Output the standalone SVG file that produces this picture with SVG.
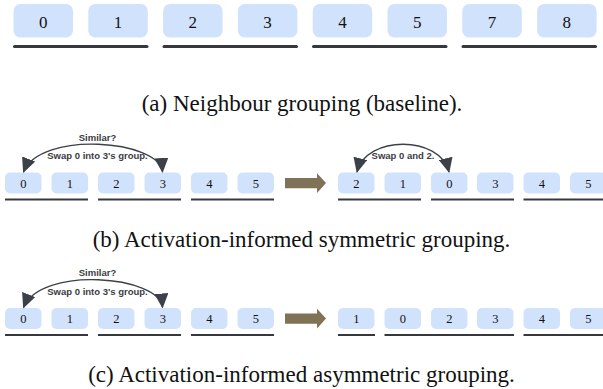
<svg xmlns="http://www.w3.org/2000/svg" width="603" height="389" viewBox="0 0 603 389">
<style>
.bl{fill:#d1e3fc}
.nl{font-family:"Liberation Serif","Times New Roman",serif;fill:#111;text-anchor:middle}
.big{font-size:17px}
.sm{font-size:12.5px}
.ul{stroke:#36383e;stroke-linecap:round;fill:none}
.ul3{stroke-width:3}
.ul2{stroke-width:2.2;stroke-linecap:butt}
.cap{font-family:"Liberation Serif","Times New Roman",serif;font-size:23px;fill:#111;text-anchor:middle}
.lbl{font-family:"Liberation Sans",Arial,sans-serif;font-weight:bold;font-size:9.5px;fill:#3a3d44;text-anchor:middle}
.arc{fill:none;stroke:#3c4048;stroke-width:1.3}
.mv{fill:#807256}
</style>
<defs>
<marker id="ah" viewBox="0 0 15 14" refX="14" refY="7" markerWidth="15" markerHeight="14" markerUnits="userSpaceOnUse" orient="auto-start-reverse">
<path d="M0,0 L15,7 L0,14 z" fill="#3c4048"/>
</marker>
</defs>

<!-- (a) -->
<g id="a-row">
<g id="a0"><rect class="bl" x="13.5" y="4" width="59.5" height="33.5" rx="7"/><text class="nl big" x="43.2" y="28">0</text></g>
<g id="a1"><rect class="bl" x="88.3" y="4" width="59.5" height="33.5" rx="7"/><text class="nl big" x="118" y="28">1</text></g>
<g id="a2"><rect class="bl" x="163.1" y="4" width="59.5" height="33.5" rx="7"/><text class="nl big" x="192.8" y="28">2</text></g>
<g id="a3"><rect class="bl" x="237.9" y="4" width="59.5" height="33.5" rx="7"/><text class="nl big" x="267.6" y="28">3</text></g>
<g id="a4"><rect class="bl" x="312.7" y="4" width="59.5" height="33.5" rx="7"/><text class="nl big" x="342.4" y="28">4</text></g>
<g id="a5"><rect class="bl" x="387.5" y="4" width="59.5" height="33.5" rx="7"/><text class="nl big" x="417.2" y="28">5</text></g>
<g id="a7"><rect class="bl" x="462.3" y="4" width="59.5" height="33.5" rx="7"/><text class="nl big" x="492" y="28">7</text></g>
<g id="a8"><rect class="bl" x="537.1" y="4" width="59.5" height="33.5" rx="7"/><text class="nl big" x="566.8" y="28">8</text></g>
</g>
<g id="a-groups" class="ul ul3">
<line x1="14.5" y1="46.5" x2="147" y2="46.5"/>
<line x1="164" y1="46.5" x2="296.5" y2="46.5"/>
<line x1="313.5" y1="46.5" x2="446" y2="46.5"/>
<line x1="463" y1="46.5" x2="595.5" y2="46.5"/>
</g>
<text class="cap" x="302" y="111">(a) Neighbour grouping (baseline).</text>

<!-- (b) -->
<g id="b-left">
<g id="b0"><rect class="bl" x="5" y="172.5" width="36.5" height="21" rx="5"/><text class="nl sm" x="23.25" y="187.5">0</text></g>
<g id="b1"><rect class="bl" x="51.5" y="172.5" width="36.5" height="21" rx="5"/><text class="nl sm" x="69.75" y="187.5">1</text></g>
<g id="b2"><rect class="bl" x="98" y="172.5" width="36.5" height="21" rx="5"/><text class="nl sm" x="116.25" y="187.5">2</text></g>
<g id="b3"><rect class="bl" x="144.5" y="172.5" width="36.5" height="21" rx="5"/><text class="nl sm" x="162.75" y="187.5">3</text></g>
<g id="b4"><rect class="bl" x="191" y="172.5" width="36.5" height="21" rx="5"/><text class="nl sm" x="209.25" y="187.5">4</text></g>
<g id="b5"><rect class="bl" x="237.5" y="172.5" width="36.5" height="21" rx="5"/><text class="nl sm" x="255.75" y="187.5">5</text></g>
</g>
<g id="b-right">
<g id="br2"><rect class="bl" x="338" y="172.5" width="36.5" height="21" rx="5"/><text class="nl sm" x="356.25" y="187.5">2</text></g>
<g id="br1"><rect class="bl" x="384.5" y="172.5" width="36.5" height="21" rx="5"/><text class="nl sm" x="402.75" y="187.5">1</text></g>
<g id="br0"><rect class="bl" x="431" y="172.5" width="36.5" height="21" rx="5"/><text class="nl sm" x="449.25" y="187.5">0</text></g>
<g id="br3"><rect class="bl" x="477" y="172.5" width="36.5" height="21" rx="5"/><text class="nl sm" x="495.25" y="187.5">3</text></g>
<g id="br4"><rect class="bl" x="523.5" y="172.5" width="36.5" height="21" rx="5"/><text class="nl sm" x="541.75" y="187.5">4</text></g>
<g id="br5"><rect class="bl" x="570" y="172.5" width="36.5" height="21" rx="5"/><text class="nl sm" x="588.25" y="187.5">5</text></g>
</g>
<g id="b-groups" class="ul ul2">
<line x1="5" y1="199.5" x2="88" y2="199.5"/>
<line x1="98" y1="199.5" x2="181" y2="199.5"/>
<line x1="191" y1="199.5" x2="274" y2="199.5"/>
<line x1="338" y1="199.5" x2="421" y2="199.5"/>
<line x1="431" y1="199.5" x2="514" y2="199.5"/>
<line x1="523.5" y1="199.5" x2="606" y2="199.5"/>
</g>
<g id="b-connectors">
<path class="arc" d="M162.5 172 C160 140 40 130 23.5 172" marker-start="url(#ah)" marker-end="url(#ah)"/>
<path class="arc" d="M449 172 C440 135 366 135 357 172" marker-start="url(#ah)" marker-end="url(#ah)"/>
<polygon class="mv" points="285,178 317,178 317,173.3 326,183 317,193 317,188.3 285,188.3"/>
</g>
<text class="lbl" x="97.5" y="140.5">Similar?</text>
<text class="lbl" x="97.5" y="159">Swap 0 into 3's group.</text>
<text class="lbl" x="403" y="159">Swap 0 and 2.</text>
<text class="cap" x="301.5" y="247">(b) Activation-informed symmetric grouping.</text>

<!-- (c) -->
<g id="c-left">
<g id="c0"><rect class="bl" x="5" y="308" width="36.5" height="21" rx="5"/><text class="nl sm" x="23.25" y="323">0</text></g>
<g id="c1"><rect class="bl" x="51.5" y="308" width="36.5" height="21" rx="5"/><text class="nl sm" x="69.75" y="323">1</text></g>
<g id="c2"><rect class="bl" x="98" y="308" width="36.5" height="21" rx="5"/><text class="nl sm" x="116.25" y="323">2</text></g>
<g id="c3"><rect class="bl" x="144.5" y="308" width="36.5" height="21" rx="5"/><text class="nl sm" x="162.75" y="323">3</text></g>
<g id="c4"><rect class="bl" x="191" y="308" width="36.5" height="21" rx="5"/><text class="nl sm" x="209.25" y="323">4</text></g>
<g id="c5"><rect class="bl" x="237.5" y="308" width="36.5" height="21" rx="5"/><text class="nl sm" x="255.75" y="323">5</text></g>
</g>
<g id="c-right">
<g id="cr1"><rect class="bl" x="338" y="308" width="36.5" height="21" rx="5"/><text class="nl sm" x="356.25" y="323">1</text></g>
<g id="cr0"><rect class="bl" x="384.5" y="308" width="36.5" height="21" rx="5"/><text class="nl sm" x="402.75" y="323">0</text></g>
<g id="cr2"><rect class="bl" x="431" y="308" width="36.5" height="21" rx="5"/><text class="nl sm" x="449.25" y="323">2</text></g>
<g id="cr3"><rect class="bl" x="477" y="308" width="36.5" height="21" rx="5"/><text class="nl sm" x="495.25" y="323">3</text></g>
<g id="cr4"><rect class="bl" x="523.5" y="308" width="36.5" height="21" rx="5"/><text class="nl sm" x="541.75" y="323">4</text></g>
<g id="cr5"><rect class="bl" x="570" y="308" width="36.5" height="21" rx="5"/><text class="nl sm" x="588.25" y="323">5</text></g>
</g>
<g id="c-groups" class="ul ul2">
<line x1="5" y1="335" x2="88" y2="335"/>
<line x1="98" y1="335" x2="181" y2="335"/>
<line x1="191" y1="335" x2="274" y2="335"/>
<line x1="338" y1="335" x2="375" y2="335"/>
<line x1="384.5" y1="335" x2="514" y2="335"/>
<line x1="523.5" y1="335" x2="606" y2="335"/>
</g>
<g id="c-connectors">
<path class="arc" d="M162.5 307.5 C160 275.5 40 265.5 23.5 307.5" marker-start="url(#ah)" marker-end="url(#ah)"/>
<polygon class="mv" points="285,313.5 317,313.5 317,308.8 326,318.5 317,328.5 317,323.8 285,323.8"/>
</g>
<text class="lbl" x="97.5" y="276">Similar?</text>
<text class="lbl" x="97.5" y="294.5">Swap 0 into 3's group.</text>
<text class="cap" x="301.5" y="382">(c) Activation-informed asymmetric grouping.</text>
</svg>
